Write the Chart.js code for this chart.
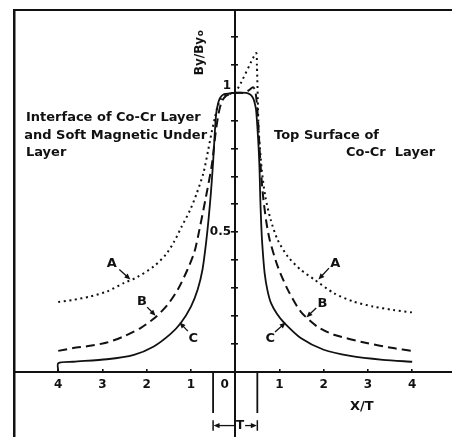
<!DOCTYPE html>
<html>
<head>
<meta charset="utf-8">
<script src="https://cdn.jsdelivr.net/npm/chart.js@4/dist/chart.umd.min.js"></script>
<style>
  html, body { margin: 0; padding: 0; background: #fff; overflow: hidden; }
  #wrap { width: 452px; height: 437px; position: relative; }
</style>
</head>
<body>
<div id="wrap"><canvas id="c" width="452" height="437"></canvas></div>
<script>
// Normalised field By/By0 across the pole, plotted against X/T.
// Curve A (dotted), curve B (dashed), curve C (solid).
const curveA_x = [-4.0, -3.66, -3.28, -2.9, -2.52, -2.21, -1.84, -1.57, -1.38, -1.21, -1.02, -0.87, -0.72, -0.61, -0.53, -0.46, -0.4, -0.32, -0.2, 0,
                  0.47, 0.49, 0.51, 0.53, 0.6, 0.68, 0.8, 0.96, 1.19, 1.48, 1.78, 2.23, 2.67, 3.12, 3.57, 4.0];
const curveA_y = [0.249, 0.257, 0.269, 0.287, 0.317, 0.339, 0.377, 0.419, 0.466, 0.52, 0.579, 0.639, 0.711, 0.795, 0.86, 0.91, 0.95, 0.978, 0.995, 1.0,
                  1.142, 1.10, 0.98, 0.867, 0.724, 0.628, 0.545, 0.472, 0.412, 0.365, 0.331, 0.281, 0.251, 0.233, 0.221, 0.212];

const curveB_x = [-4.0, -3.66, -3.28, -2.9, -2.52, -2.14, -1.8, -1.53, -1.3, -1.08, -0.92, -0.81, -0.66, -0.53, -0.44, -0.37, -0.3, -0.2, 0,
                  0.2, 0.32, 0.4, 0.45, 0.49, 0.52, 0.55, 0.58, 0.63, 0.7, 0.78, 0.96, 1.19, 1.48, 1.855, 2.23, 2.97, 3.57, 4.0];
const curveB_y = [0.074, 0.084, 0.092, 0.104, 0.126, 0.156, 0.195, 0.239, 0.293, 0.365, 0.43, 0.508, 0.628, 0.74, 0.86, 0.93, 0.97, 0.99, 1.0,
                  1.0, 1.01, 1.02, 1.01, 0.96, 0.89, 0.80, 0.724, 0.628, 0.54, 0.472, 0.377, 0.293, 0.215, 0.161, 0.132, 0.102, 0.084, 0.074];

const curveC_x = [-4.0, -4.0, -3.66, -2.9, -2.29, -1.84, -1.46, -1.23, -1.0, -0.85, -0.74, -0.66, -0.6, -0.55, -0.5, -0.46, -0.43, -0.39, -0.34, -0.25, 0,
                  0.25, 0.33, 0.39, 0.43, 0.47, 0.5, 0.53, 0.55, 0.565, 0.585, 0.61, 0.665, 0.73, 0.81, 0.95, 1.11, 1.48, 2.0, 2.6, 3.34, 4.0];
const curveC_y = [0, 0.03, 0.035, 0.044, 0.06, 0.09, 0.135, 0.174, 0.233, 0.293, 0.365, 0.46, 0.55, 0.64, 0.75, 0.86, 0.925, 0.96, 0.982, 0.995, 1.0,
                  1.0, 0.995, 0.985, 0.97, 0.94, 0.88, 0.8, 0.724, 0.63, 0.54, 0.46, 0.353, 0.29, 0.245, 0.205, 0.174, 0.12, 0.078, 0.056, 0.042, 0.035];

// Axis ticks
const xTickValues = [-4, -3, -2, -1, 0, 1, 2, 3, 4];
const yTickValues = [0.1, 0.2, 0.3, 0.4, 0.5, 0.6, 0.7, 0.8, 0.9, 1.0, 1.1, 1.2];
const yTickLabels = { '0.5': '0.5', '1': '1' };

const ink = '#111';
const fontFamily = '"DejaVu Sans", "Liberation Sans", sans-serif';

const toPoints = (xs, ys) => xs.map((v, i) => ({ x: v, y: ys[i] }));

// Side notes, curve letters with their pointer arrows, and the pole-width mark
const sideNotes = [
  { text: 'Interface of Co-Cr Layer', x: -4.73, y: 0.910, align: 'left' },
  { text: 'and Soft Magnetic Under', x: -4.77, y: 0.845, align: 'left' },
  { text: 'Layer', x: -4.73, y: 0.784, align: 'left' },
  { text: 'Top Surface of', x: 0.877, y: 0.845, align: 'left' },
  { text: 'Co-Cr  Layer', x: 4.52, y: 0.784, align: 'right' }
];
const curveTags = [
  { text: 'A', x: -2.79, y: 0.388, from: [-2.62, 0.366], to: [-2.37, 0.330] },
  { text: 'B', x: -2.11, y: 0.250, from: [-1.99, 0.231], to: [-1.80, 0.200] },
  { text: 'C', x: -0.95, y: 0.119, from: [-1.07, 0.145], to: [-1.26, 0.176] },
  { text: 'A', x: 2.26, y: 0.388, from: [2.12, 0.371], to: [1.88, 0.330] },
  { text: 'B', x: 1.97, y: 0.245, from: [1.83, 0.228], to: [1.61, 0.194] },
  { text: 'C', x: 0.79, y: 0.119, from: [0.90, 0.142], to: [1.14, 0.176] }
];
const poleHalfWidth = 0.5;

function arrow(ctx, x1, y1, x2, y2) {
  const ang = Math.atan2(y2 - y1, x2 - x1);
  const len = 6, half = 2.6;
  ctx.beginPath();
  ctx.moveTo(x1, y1);
  ctx.lineTo(x2 - Math.cos(ang) * len * 0.8, y2 - Math.sin(ang) * len * 0.8);
  ctx.stroke();
  ctx.beginPath();
  ctx.moveTo(x2, y2);
  ctx.lineTo(x2 - Math.cos(ang) * len - Math.sin(ang) * half, y2 - Math.sin(ang) * len + Math.cos(ang) * half);
  ctx.lineTo(x2 - Math.cos(ang) * len + Math.sin(ang) * half, y2 - Math.sin(ang) * len - Math.cos(ang) * half);
  ctx.closePath();
  ctx.fill();
}

const figureNotes = {
  id: 'figureNotes',
  afterDatasetsDraw(chart) {
    const { ctx, scales } = chart;
    const px = v => scales.x.getPixelForValue(v);
    const py = v => scales.y.getPixelForValue(v);
    ctx.save();
    ctx.fillStyle = ink;
    ctx.strokeStyle = ink;
    ctx.textBaseline = 'middle';

    ctx.font = 'bold 13px ' + fontFamily;
    sideNotes.forEach(n => {
      ctx.textAlign = n.align;
      ctx.fillText(n.text, px(n.x), py(n.y));
    });

    ctx.lineWidth = 1.3;
    ctx.textAlign = 'center';
    curveTags.forEach(t => {
      ctx.fillText(t.text, px(t.x), py(t.y));
      arrow(ctx, px(t.from[0]), py(t.from[1]), px(t.to[0]), py(t.to[1]));
    });

    // axis title X/T
    ctx.font = 'bold 13px ' + fontFamily;
    ctx.fillText('X/T', px(2.86), py(-0.126));

    // axis title By/By0, read upward
    ctx.save();
    ctx.translate(px(-0.80), py(1.143));
    ctx.rotate(-Math.PI / 2);
    ctx.font = 'bold 12px ' + fontFamily;
    const main = 'By/By';
    const wMain = ctx.measureText(main).width;
    ctx.font = 'bold 9px ' + fontFamily;
    const wSub = ctx.measureText('o').width;
    const start = -(wMain + wSub) / 2;
    ctx.textAlign = 'left';
    ctx.font = 'bold 12px ' + fontFamily;
    ctx.fillText(main, start, 0);
    ctx.font = 'bold 9px ' + fontFamily;
    ctx.fillText('o', start + wMain + 0.5, 1);
    ctx.restore();

    // pole width T
    const xl = px(-poleHalfWidth), xr = px(poleHalfWidth);
    const yTop = py(0), yLow = py(-0.149), yDim = py(-0.194);
    ctx.lineWidth = 1.8;
    ctx.beginPath();
    ctx.moveTo(xl, yTop); ctx.lineTo(xl, yLow);
    ctx.moveTo(xr, yTop); ctx.lineTo(xr, yLow);
    ctx.stroke();
    ctx.lineWidth = 1.5;
    ctx.beginPath();
    ctx.moveTo(xl, py(-0.175)); ctx.lineTo(xl, py(-0.213));
    ctx.moveTo(xr, py(-0.175)); ctx.lineTo(xr, py(-0.213));
    ctx.stroke();
    ctx.font = 'bold 12px ' + fontFamily;
    ctx.textAlign = 'center';
    const tx = px(0.11);
    ctx.fillText('T', tx, yDim);
    ctx.lineWidth = 1.3;
    arrow(ctx, tx - 5, yDim, xl + 0.5, yDim);
    arrow(ctx, tx + 5, yDim, xr - 0.5, yDim);
    ctx.restore();
  }
};

const tickInk = ctx => {
  const v = ctx.tick ? ctx.tick.value : 0;
  return Math.abs(v) < 1e-9 ? 'rgba(0,0,0,0)' : ink;
};

new Chart(document.getElementById('c'), {
  type: 'line',
  data: {
    datasets: [
      { label: 'A', data: toPoints(curveA_x, curveA_y), borderColor: ink, borderWidth: 2, borderDash: [2, 3.6] },
      { label: 'B', data: toPoints(curveB_x, curveB_y), borderColor: ink, borderWidth: 2, borderDash: [9, 5] },
      { label: 'C', data: toPoints(curveC_x, curveC_y), borderColor: ink, borderWidth: 1.8 }
    ]
  },
  options: {
    responsive: false,
    animation: false,
    devicePixelRatio: 1,
    layout: { padding: { left: 14, top: 10, right: 0, bottom: 0 } },
    elements: {
      point: { radius: 0, hoverRadius: 0 },
      line: { tension: 0.25, fill: false, borderCapStyle: 'butt' }
    },
    plugins: { legend: { display: false }, tooltip: { enabled: false } },
    scales: {
      x: {
        type: 'linear',
        position: { y: 0 },
        min: -5, max: 4.9,
        afterBuildTicks: s => { s.ticks = xTickValues.map(v => ({ value: v })); },
        ticks: {
          color: ink,
          padding: 10,
          font: { family: fontFamily, size: 12, weight: 'bold' },
          maxRotation: 0,
          autoSkip: false,
          callback: v => (v === 0 ? '0     ' : String(Math.abs(v)))
        },
        grid: { drawOnChartArea: false, drawTicks: true, tickLength: -4, lineWidth: 1.6, color: tickInk },
        border: { display: true, width: 2, color: ink }
      },
      y: {
        type: 'linear',
        position: { x: 0 },
        min: -0.235, max: 1.297,
        afterBuildTicks: s => { s.ticks = yTickValues.map(v => ({ value: v })); },
        ticks: {
          color: ink,
          padding: 0,
          font: { family: fontFamily, size: 12, weight: 'bold' },
          autoSkip: false,
          // unlabelled ticks get an empty line list so they take no room
          callback: v => {
            const key = String(Math.round(v * 10) / 10);
            if (key === '1') return ['1 ', ''];
            return yTickLabels[key] ? yTickLabels[key] + ' ' : [];
          }
        },
        grid: { drawOnChartArea: false, drawTicks: true, tickLength: 3, lineWidth: 1.6, color: ink },
        border: { display: true, width: 2, color: ink }
      },
      yRight: {
        type: 'linear',
        axis: 'y',
        position: { x: 0 },
        min: -0.235, max: 1.297,
        afterBuildTicks: s => { s.ticks = yTickValues.map(v => ({ value: v })); },
        ticks: { display: false },
        grid: { drawOnChartArea: false, drawTicks: true, tickLength: -3, lineWidth: 1.6, color: ink },
        border: { display: false }
      },
      frameTop: {
        type: 'linear',
        axis: 'x',
        position: 'top',
        min: 0, max: 1,
        ticks: { display: false },
        grid: { drawOnChartArea: false, drawTicks: false },
        border: { display: true, width: 2, color: ink }
      },
      frameLeft: {
        type: 'linear',
        axis: 'y',
        position: 'left',
        min: 0, max: 1,
        ticks: { display: false },
        grid: { drawOnChartArea: false, drawTicks: false },
        border: { display: true, width: 2.5, color: ink }
      }
    }
  },
  plugins: [figureNotes]
});
</script>
</body>
</html>
